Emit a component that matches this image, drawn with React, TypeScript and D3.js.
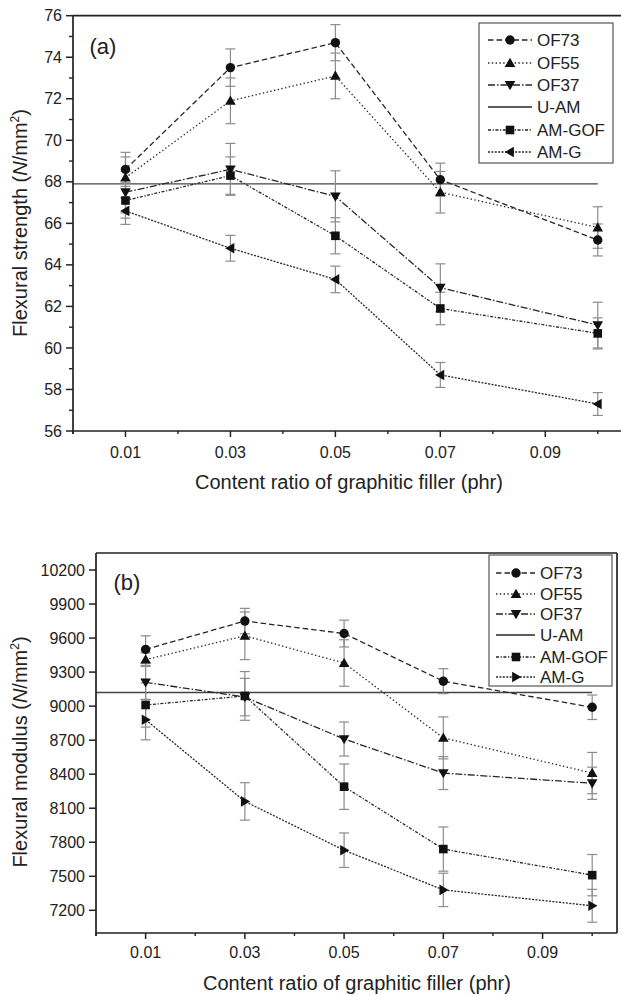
import React from 'react';
import * as d3 from 'd3';

// ---------- data ----------
const xValues = [0.01, 0.03, 0.05, 0.07, 0.1];
const xMajorTicks = [0.01, 0.03, 0.05, 0.07, 0.09];
const xTickLabels = ['0.01', '0.03', '0.05', '0.07', '0.09'];
const xMinorTicks = [0, 0.02, 0.04, 0.06, 0.08, 0.1];

const seriesNames = ['OF73', 'OF55', 'OF37', 'U-AM', 'AM-GOF', 'AM-G'];

// (a) flexural strength
const strengthOF73 = [68.6, 73.5, 74.7, 68.1, 65.2];
const strengthOF73Err = [0.82, 0.9, 0.87, 0.8, 0.77];
const strengthOF55 = [68.2, 71.9, 73.1, 67.5, 65.8];
const strengthOF55Err = [1.0, 1.1, 1.1, 1.0, 1.0];
const strengthOF37 = [67.5, 68.6, 67.3, 62.9, 61.1];
const strengthOF37Err = [1.0, 1.25, 1.23, 1.15, 1.1];
const strengthAMGOF = [67.1, 68.3, 65.4, 61.9, 60.7];
const strengthAMGOFErr = [0.85, 0.9, 0.87, 0.78, 0.75];
const strengthAMG = [66.6, 64.8, 63.3, 58.7, 57.3];
const strengthAMGErr = [0.65, 0.62, 0.64, 0.6, 0.55];
const strengthUAM = 67.9;
const strengthTicks = [56, 58, 60, 62, 64, 66, 68, 70, 72, 74, 76];
const strengthMinorTicks = [57, 59, 61, 63, 65, 67, 69, 71, 73, 75];

// (b) flexural modulus
const modulusOF73 = [9500, 9750, 9640, 9220, 8990];
const modulusOF73Err = [120, 112, 118, 110, 108];
const modulusOF55 = [9410, 9620, 9380, 8720, 8410];
const modulusOF55Err = [60, 210, 205, 185, 182];
const modulusOF37 = [9210, 9080, 8710, 8410, 8320];
const modulusOF37Err = [150, 165, 150, 145, 142];
const modulusAMGOF = [9010, 9090, 8290, 7740, 7510];
const modulusAMGOFErr = [195, 215, 200, 195, 182];
const modulusAMG = [8880, 8160, 7730, 7380, 7240];
const modulusAMGErr = [177, 165, 152, 147, 145];
const modulusUAM = 9120;
const modulusTicks = [7200, 7500, 7800, 8100, 8400, 8700, 9000, 9300, 9600, 9900, 10200];

// ---------- styles ----------
const FONT = '"Liberation Sans", Arial, Helvetica, sans-serif';
const LINE = '#262626';
const ERR = '#8c8c8c';
const MARK = '#111';

const dashes: Record<string, string> = {
  'OF73': '5.5,3',
  'OF55': '1.4,2.4',
  'OF37': '7,2,1.5,2',
  'U-AM': '',
  'AM-GOF': '3,1.6,1.2,1.6',
  'AM-G': '2,1.4',
};

const markerPaths: Record<string, string> = {
  circle: 'M4.7,0A4.7,4.7 0 1,1 -4.7,0A4.7,4.7 0 1,1 4.7,0Z',
  up: 'M0,-5.3L5.3,3.9L-5.3,3.9Z',
  down: 'M0,5.3L5.3,-3.9L-5.3,-3.9Z',
  left: 'M-5.3,0L3.9,-5.3L3.9,5.3Z',
  right: 'M5.3,0L-3.9,-5.3L-3.9,5.3Z',
  square: 'M-4.3,-4.3h8.6v8.6h-8.6Z',
};

type Series = { name: string; values: number[]; errs: number[]; marker: string };

type PanelProps = {
  tag: string;
  series: Series[];
  uam: number;
  xRange: [number, number];
  yDomain: [number, number];
  yRange: [number, number];
  yTicks: number[];
  yMinor: number[];
  tagPos: [number, number];
  yLabel: string;
  yLabelPos: [number, number];
  xLabelY: number;
  xTitleX: number;
  xTitleY: number;
  legend: { x0: number; y0: number; x1: number; y1: number; rows: number[]; lx0: number; lx1: number; mx: number; tx: number };
  legendMarkers: string[];
};

function Panel(p: PanelProps) {
  const x = d3.scaleLinear().domain([0, 0.105]).range(p.xRange);
  const y = d3.scaleLinear().domain(p.yDomain).range(p.yRange);
  const [left, right] = p.xRange;
  const [bottom, top] = p.yRange;
  const line = d3.line<number>().x((_, i) => x(xValues[i])).y((v) => y(v));
  const yFmt = d3.format('d');
  return (
    <g>
      {/* U-AM reference */}
      <line x1={x(0)} x2={x(0.1)} y1={y(p.uam)} y2={y(p.uam)} stroke="#444" strokeWidth={1.4} />
      {/* series lines */}
      {p.series.map((s) => (
        <path key={s.name + 'l'} d={line(s.values) || ''} fill="none" stroke={LINE} strokeWidth={1.3} strokeDasharray={dashes[s.name]} />
      ))}
      {/* error bars */}
      {p.series.map((s) =>
        s.values.map((v, i) => {
          const cx = x(xValues[i]);
          const y1 = y(v + s.errs[i]);
          const y2 = y(v - s.errs[i]);
          return (
            <g key={s.name + 'e' + i} stroke={ERR} strokeWidth={1.2}>
              <line x1={cx} x2={cx} y1={y1} y2={y2} />
              <line x1={cx - 5} x2={cx + 5} y1={y1} y2={y1} />
              <line x1={cx - 5} x2={cx + 5} y1={y2} y2={y2} />
            </g>
          );
        })
      )}
      {/* markers */}
      {p.series.map((s) =>
        s.values.map((v, i) => (
          <path key={s.name + 'm' + i} d={markerPaths[s.marker]} transform={`translate(${x(xValues[i])},${y(v)})`} fill={MARK} />
        ))
      )}
      {/* frame */}
      <g stroke="#222" strokeWidth={1.7} fill="none">
        <line x1={left} x2={right} y1={top} y2={top} />
        <line x1={right} x2={right} y1={top} y2={bottom} />
        <line x1={left} x2={left} y1={top} y2={bottom + 3} />
        <line x1={left} x2={right} y1={bottom} y2={bottom} />
      </g>
      {/* y ticks */}
      {p.yTicks.map((t) => (
        <g key={'yt' + t}>
          <line x1={left - 7} x2={left} y1={y(t)} y2={y(t)} stroke="#222" strokeWidth={1.5} />
          <text x={left - 11} y={y(t)} dy="0.35em" textAnchor="end" fontSize={16} fontFamily={FONT} fill="#222">{yFmt(t)}</text>
        </g>
      ))}
      {p.yMinor.map((t) => (
        <line key={'ym' + t} x1={left - 4} x2={left} y1={y(t)} y2={y(t)} stroke="#222" strokeWidth={1.4} />
      ))}
      {/* x ticks */}
      {xMajorTicks.map((t, i) => (
        <g key={'xt' + t}>
          <line x1={x(t)} x2={x(t)} y1={bottom} y2={bottom + 6} stroke="#222" strokeWidth={1.5} />
          <text x={x(t)} y={p.xLabelY} dy="0.35em" textAnchor="middle" fontSize={16} fontFamily={FONT} fill="#222">{xTickLabels[i]}</text>
        </g>
      ))}
      {xMinorTicks.map((t) => (
        <line key={'xm' + t} x1={x(t)} x2={x(t)} y1={bottom} y2={bottom + 3} stroke="#222" strokeWidth={1.4} />
      ))}
      {/* titles */}
      <text x={p.xTitleX} y={p.xTitleY} dy="0.35em" textAnchor="middle" fontSize={20} fontFamily={FONT} fill="#222">
        Content ratio of graphitic filler (phr)
      </text>
      <text transform={`translate(${p.yLabelPos[0]},${p.yLabelPos[1]}) rotate(-90)`} dy="0.35em" textAnchor="middle" fontSize={20} fontFamily={FONT} fill="#222">
        {p.yLabel} (<tspan fontStyle="italic">N</tspan>/mm<tspan fontSize={12} dy="-8">2</tspan><tspan dy="8">)</tspan>
      </text>
      <text x={p.tagPos[0]} y={p.tagPos[1]} dy="0.35em" textAnchor="middle" fontSize={22} fontFamily={FONT} fill="#222">{p.tag}</text>
      {/* legend */}
      <rect x={p.legend.x0} y={p.legend.y0} width={p.legend.x1 - p.legend.x0} height={p.legend.y1 - p.legend.y0} fill="white" stroke="#555" strokeWidth={1.2} />
      {seriesNames.map((n, i) => {
        const ry = p.legend.rows[i];
        const mk = p.legendMarkers[i];
        return (
          <g key={'lg' + n}>
            <line x1={p.legend.lx0} x2={p.legend.lx1} y1={ry} y2={ry} stroke={LINE} strokeWidth={1.3} strokeDasharray={dashes[n]} />
            {mk ? <path d={markerPaths[mk]} transform={`translate(${p.legend.mx},${ry})`} fill={MARK} /> : null}
            <text x={p.legend.tx} y={ry} dy="0.35em" fontSize={17} fontFamily={FONT} fill="#222">{n}</text>
          </g>
        );
      })}
    </g>
  );
}

export default function App() {
  const strengthSeries: Series[] = [
    { name: 'OF73', values: strengthOF73, errs: strengthOF73Err, marker: 'circle' },
    { name: 'OF55', values: strengthOF55, errs: strengthOF55Err, marker: 'up' },
    { name: 'OF37', values: strengthOF37, errs: strengthOF37Err, marker: 'down' },
    { name: 'AM-GOF', values: strengthAMGOF, errs: strengthAMGOFErr, marker: 'square' },
    { name: 'AM-G', values: strengthAMG, errs: strengthAMGErr, marker: 'left' },
  ];
  const modulusSeries: Series[] = [
    { name: 'OF73', values: modulusOF73, errs: modulusOF73Err, marker: 'circle' },
    { name: 'OF55', values: modulusOF55, errs: modulusOF55Err, marker: 'up' },
    { name: 'OF37', values: modulusOF37, errs: modulusOF37Err, marker: 'down' },
    { name: 'AM-GOF', values: modulusAMGOF, errs: modulusAMGOFErr, marker: 'square' },
    { name: 'AM-G', values: modulusAMG, errs: modulusAMGErr, marker: 'right' },
  ];
  return (
    <svg width={621} height={996} style={{ position: 'absolute', left: 0, top: 0, background: 'white' }}>
      <rect width={621} height={996} fill="white" />
      <Panel
        tag="(a)"
        series={strengthSeries}
        uam={strengthUAM}
        xRange={[73, 624]}
        yDomain={[56, 76]}
        yRange={[431, 15.7]}
        yTicks={strengthTicks}
        yMinor={strengthMinorTicks}
        tagPos={[103, 46]}
        yLabel="Flexural strength"
        yLabelPos={[20, 223]}
        xLabelY={452}
        xTitleX={349}
        xTitleY={482}
        legend={{ x0: 479, y0: 23, x1: 613, y1: 163, rows: [40, 63, 85, 107, 130, 152], lx0: 488, lx1: 532, mx: 510, tx: 537 }}
        legendMarkers={['circle', 'up', 'down', '', 'square', 'left']}
      />
      <Panel
        tag="(b)"
        series={modulusSeries}
        uam={modulusUAM}
        xRange={[96, 617]}
        yDomain={[7000, 10350]}
        yRange={[933, 553]}
        yTicks={modulusTicks}
        yMinor={[]}
        tagPos={[127, 582]}
        yLabel="Flexural modulus"
        yLabelPos={[20, 752]}
        xLabelY={952}
        xTitleX={357}
        xTitleY={983}
        legend={{ x0: 489, y0: 555, x1: 612, y1: 686, rows: [573, 594, 614, 635, 657, 677], lx0: 496, lx1: 535, mx: 516, tx: 540 }}
        legendMarkers={['circle', 'up', 'down', '', 'square', 'right']}
      />
    </svg>
  );
}
